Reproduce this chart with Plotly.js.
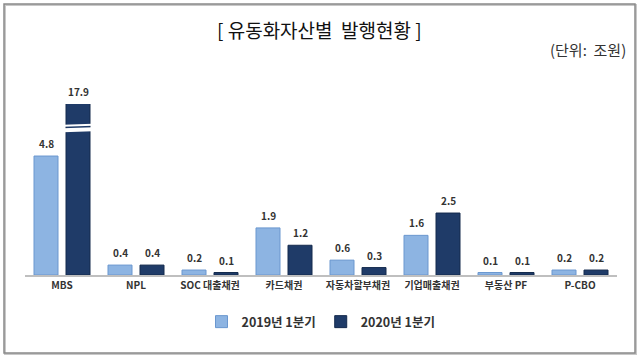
<!DOCTYPE html>
<html><head><meta charset="utf-8">
<script src="https://cdn.plot.ly/plotly-3.0.1.min.js"></script>
<style>html,body{margin:0;padding:0;background:#fff}#chart{width:640px;height:361px}</style>
</head><body><div id="chart"></div>
<script>
const categories = ['MBS','NPL','SOC 대출채권','카드채권','자동차할부채권','기업매출채권','부동산 PF','P-CBO'];
const series2019 = [4.8,0.4,0.2,1.9,0.6,1.6,0.1,0.2];
const series2020 = [17.9,0.4,0.1,1.2,0.3,2.5,0.1,0.2];
const seriesNames = ['2019년 1분기','2020년 1분기'];
const yMax = 6.9;      // axis is broken above this value
const breakAt = 6.0;   // where the break marks are drawn on clipped bars

const FONT = '"Noto Sans CJK KR", "Noto Sans", sans-serif';
const light = '#8DB4E2', dark = '#1F3B68';

const traces = [
  {type:'bar', name:seriesNames[0], x:categories, y:series2019,
   marker:{color:light, line:{color:'#6A97CF', width:1}}, hoverinfo:'none'},
  {type:'bar', name:seriesNames[1], x:categories, y:series2020,
   marker:{color:dark, line:{color:'#142A4D', width:1}}, hoverinfo:'none'}
];

const offs = [-16, 16];
const annotations = [];
[series2019, series2020].forEach((s, si) => {
  s.forEach((v, i) => {
    annotations.push({x:categories[i], y:Math.min(v, yMax), xref:'x', yref:'y',
      text:'<b>'+v.toFixed(1)+'</b>', showarrow:false, xshift:offs[si], yshift:3,
      yanchor:'bottom', font:{family:FONT, size:10, color:'#333'}});
  });
});
annotations.push({xref:'paper', yref:'paper', x:(319-25)/592, y:(275-30)/171,
  text:'[ 유동화자산별  발행현황 ]', showarrow:false, xanchor:'center', yanchor:'middle',
  font:{family:FONT, size:19, color:'#111'}});
annotations.push({xref:'paper', yref:'paper', x:(628-25)/592, y:(275-50)/171,
  text:'(단위:  조원)', showarrow:false, xanchor:'right', yanchor:'middle',
  font:{family:FONT, size:15, color:'#333'}});

const shapes = [
  {type:'rect', xref:'paper', yref:'paper', x0:(5-25)/592, x1:(636-25)/592, y0:(275-354)/171, y1:(275-5)/171,
   line:{color:'#c8c8c8', width:2}, layer:'below'},
  {type:'rect', xref:'paper', yref:'paper', x0:(4-25)/592, x1:(635-25)/592, y0:(275-353)/171, y1:(275-4)/171,
   line:{color:'#8a8a8a', width:1.5}, layer:'below'}
];
// break marks on bars exceeding the axis
[series2019, series2020].forEach((s, si) => {
  s.forEach((v, i) => {
    if (v > yMax) {
      const c = i + offs[si]/74, hw = 0.2;
      shapes.push({type:'path', xref:'x', yref:'y',
        path:`M${c-hw},${breakAt+0.06} L${c+hw},${breakAt+0.1} L${c+hw},${breakAt+0.02} L${c-hw},${breakAt-0.02} Z`,
        fillcolor:'#fff', line:{width:0}});
      shapes.push({type:'path', xref:'x', yref:'y',
        path:`M${c-hw},${breakAt-0.08} L${c+hw},${breakAt-0.04} L${c+hw},${breakAt-0.2} L${c-hw},${breakAt-0.24} Z`,
        fillcolor:'#fff', line:{width:0}});
    }
  });
});

const layout = {
  width:640, height:361,
  margin:{l:25, r:23, t:104, b:86},
  paper_bgcolor:'#fff', plot_bgcolor:'#fff',
  barmode:'group', bargap:0.135, bargroupgap:0.25,
  showlegend:true,
  legend:{orientation:'h', x:0.5, xanchor:'center', y:(275-322)/171, yanchor:'middle',
    font:{family:FONT, size:12.5, color:'#333'}, itemwidth:30, traceorder:'normal'},
  xaxis:{type:'category', showline:true, linecolor:'#BFBFBF', linewidth:2, ticks:'',
    tickfont:{family:FONT, size:10, color:'#333'}, showgrid:false, zeroline:false, fixedrange:true},
  yaxis:{range:[0,yMax], visible:false, showgrid:false, zeroline:false, fixedrange:true},
  annotations, shapes
};
layout.xaxis.ticktext = categories.map(c => '<b>'+c+'</b>');
layout.xaxis.tickvals = categories;
traces.forEach(t => t.name = '<b>'+t.name+'</b>');
Plotly.newPlot('chart', traces, layout, {staticPlot:true, displayModeBar:false});
</script></body></html>
